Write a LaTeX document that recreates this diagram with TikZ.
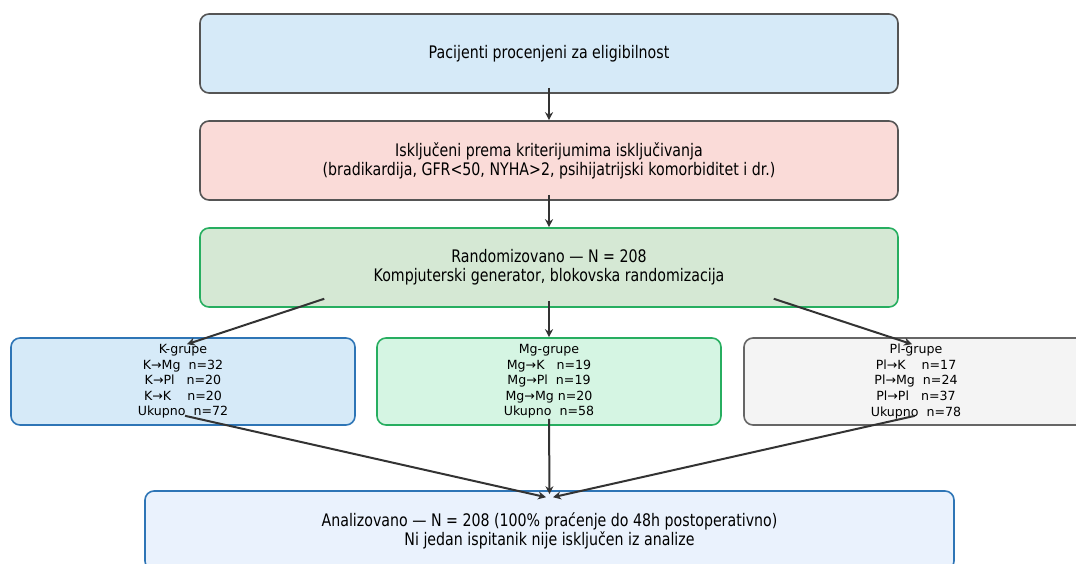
\documentclass[tikz,border=0pt]{standalone}
\usepackage{fontspec}
\setmainfont{DejaVu Sans}
\newfontfamily\condfont{DejaVu Sans}[FakeStretch=0.82]
\usetikzlibrary{calc,arrows.meta}

\definecolor{bluefill}{HTML}{D6EAF8}
\definecolor{redfill}{HTML}{FADBD8}
\definecolor{greenfill}{HTML}{D5E8D4}
\definecolor{mintfill}{HTML}{D5F5E3}
\definecolor{greyfill}{HTML}{F4F4F4}
\definecolor{palefill}{HTML}{EAF2FD}
\definecolor{darkline}{HTML}{555555}
\definecolor{blueline}{HTML}{2E75B6}
\definecolor{greenline}{HTML}{27AE60}
\definecolor{greyline}{HTML}{666666}
\definecolor{arrowcol}{HTML}{333333}

\begin{document}
\begin{tikzpicture}[x=1pt, y=-1pt,
  stagebox/.style={draw, line width=1.6pt, rounded corners=9pt, align=center,
    minimum width=698pt, minimum height=79pt, inner sep=0pt,
    font=\condfont\fontsize{17.3}{19}\selectfont},
  groupbox/.style={draw, line width=1.6pt, rounded corners=9pt, align=center,
    minimum width=344pt, minimum height=87pt, inner sep=0pt,
    font=\fontsize{12.6}{15.6}\selectfont},
  flow/.style={draw=arrowcol, line width=2pt, -{Stealth[length=8pt, width=8pt]}}]

\useasboundingbox (0,0) rectangle (1076,564);

% stages
\node [stagebox, fill=bluefill, draw=darkline] (elig) at (549,53.5)
  {Pacijenti procenjeni za eligibilnost};
\node [stagebox, fill=redfill, draw=darkline] (excl) at (549,160.5)
  {Isključeni prema kriterijumima isključivanja\\
   (bradikardija, GFR<50, NYHA>2, psihijatrijski komorbiditet i dr.)};
\node [stagebox, fill=greenfill, draw=greenline] (rand) at (549,267.5)
  {Randomizovano — N = 208\\
   Kompjuterski generator, blokovska randomizacija};

% groups
\node [groupbox, fill=bluefill, draw=blueline] (kgrp) at (183,381.5)
  {K-grupe\\ K→Mg~~n=32\\ K→Pl~~~n=20\\ K→K~~~~n=20\\ Ukupno~~n=72};
\node [groupbox, fill=mintfill, draw=greenline] (mggrp) at (549,381.5)
  {Mg-grupe\\ Mg→K~~~n=19\\ Mg→Pl~~n=19\\ Mg→Mg n=20\\ Ukupno~~n=58};
\node [groupbox, fill=greyfill, draw=greyline] (plgrp) at (916,381.5)
  {Pl-grupe\\ Pl→K~~~~n=17\\ Pl→Mg~~n=24\\ Pl→Pl~~~n=37\\ Ukupno~~n=78};

% analysis
\node [stagebox, fill=palefill, draw=blueline, minimum width=809pt] (anal) at (549.5,530.5)
  {Analizovano — N = 208 (100\% praćenje do 48h postoperativno)\\
   Ni jedan ispitanik nije isključen iz analize};

% draw arrows
\draw [flow] ($(elig.south)+(0,-6)$) -- (excl.north);
\draw [flow] ($(excl.south)+(0,-6)$) -- (rand.north);

\draw [flow] ($(rand.south west)+(125,-9)$) -- ($(kgrp.north)+(4,7)$);
\draw [flow] ($(rand.south)+(0,-7)$) -- (mggrp.north);
\draw [flow] ($(rand.south east)+(-125,-9)$) -- ($(plgrp.north)+(-4,7)$);

\draw [flow] ($(kgrp.south)+(2,-10)$) -- ($(anal.north)+(-3.5,7)$);
\draw [flow] ($(mggrp.south)+(0,-7)$) -- ($(anal.north)+(0,4)$);
\draw [flow] ($(plgrp.south)+(-1,-10)$) -- ($(anal.north)+(3.5,7)$);

\end{tikzpicture}
\end{document}
